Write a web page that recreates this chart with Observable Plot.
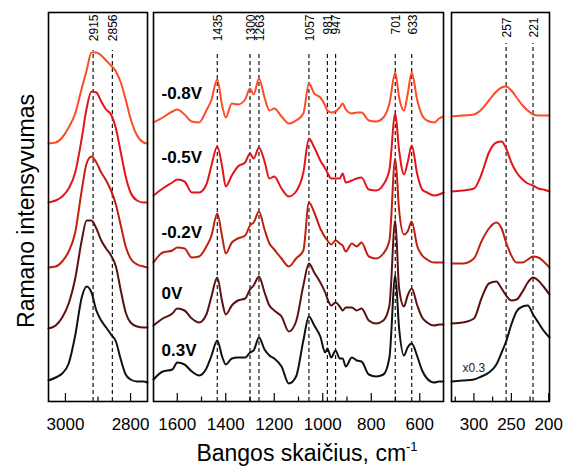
<!DOCTYPE html>
<html><head><meta charset="utf-8">
<script src="https://cdn.jsdelivr.net/npm/d3@7"></script>
<script src="https://cdn.jsdelivr.net/npm/@observablehq/plot@0.6"></script>
<style>
html,body{margin:0;padding:0;background:#fff;}
#wrap{position:relative;width:571px;height:466px;font-family:"Liberation Sans",Arial,sans-serif;color:#000;}
.panel{position:absolute;top:0;}
#ytitle{position:absolute;left:25.5px;top:211px;transform:translate(-50%,-50%) rotate(-90deg);font-size:23px;line-height:23px;white-space:nowrap;}
#xtitle{position:absolute;left:307px;top:442px;transform:translateX(-50%);font-size:23px;line-height:23px;white-space:nowrap;}
#xtitle sup{font-size:13px;vertical-align:0;position:relative;top:-10px;}
</style>
</head><body>
<div id="wrap">
  <div id="ytitle">Ramano intensyvumas</div>
  <div id="xtitle">Bangos skaičius, cm<sup>-1</sup></div>
</div>
<script>
// ---- data ----
const voltages = ["-0.8V", "-0.5V", "-0.2V", "0V", "0.3V"];
const colors = ["#ff4a26", "#e3151b", "#c2200f", "#5b1111", "#111111"];

// panel 1 (C-H region)
const wn1 = [3052,3030,3010,2990,2970,2950,2935,2920,2905,2890,2875,2860,2845,2830,2815,2800,2780,2760,2748];
const p1_m08 = [257,258,263,273,287,312,330,348,348,345,340,335,329,318,301,282,265,258,257];
const p1_m05 = [198,200,204,212,228,262,292,309,308,299,291,286,272,248,224,208,200,198,198];
const p1_m02 = [133,134,139,149,168,210,237,244,238,228,220,210,196,175,154,142,136,134,133];
const p1_0   = [72,75,83,97,122,160,180,180,172,160,152,145,134,110,88,78,74,73,73];
const p1_03  = [20,23,27,37,65,103,114,108,90,80,73,66,59,41,26,21,19,19,18];
const peaks1 = [2915, 2856];
const ticks1 = [3000, 2900, 2800];
const tickLabels1 = [3000, 2800];

// panel 2 (fingerprint region)
const wn2 = [1698,1660,1620,1600,1570,1540,1510,1480,1460,1435,1415,1400,1375,1350,1320,1300,1285,1263,1240,1220,1200,1170,1140,1110,1080,1057,1035,1010,990,981,965,947,930,918,905,880,860,840,810,780,750,725,701,685,665,650,633,610,590,570,540,520,502];
const p2_m08 = [278,283,289,291,286,279,278,290,300,321,295,283,297,296,301,312,306,322,303,290,292,284,277,280,287,317,307,303,295,290,288,289,293,297,291,287,288,288,280,279,283,297,328,303,290,306,328,300,285,280,278,282,284];
const p2_m05 = [205,212,218,221,219,208,208,216,234,254,234,214,225,234,238,247,242,253,239,222,224,212,204,209,228,262,253,240,232,228,222,222,222,227,218,220,222,223,211,210,216,231,287,250,226,238,255,226,211,208,205,206,208];
const p2_m02 = [138,148,150,153,152,143,144,154,164,187,164,147,158,162,165,175,178,189,171,157,151,142,134,142,150,198,188,172,163,160,156,160,157,155,149,157,154,158,144,142,147,160,242,190,166,169,179,154,145,141,138,138,138];
const p2_0   = [75,82,87,92,90,82,78,86,103,123,99,86,95,100,102,111,115,124,108,95,90,84,69,79,115,137,128,118,108,102,95,98,94,90,93,93,90,92,80,77,80,95,180,112,94,105,112,95,83,78,75,76,76];
const p2_03  = [21,29,31,38,36,29,25,32,44,60,44,36,42,43,43,48,50,63,51,45,42,34,17,24,60,84,75,64,48,52,43,50,42,42,34,43,40,39,26,24,26,43,125,72,45,53,57,44,30,22,18,19,19];
const peaks2 = [1435, 1300, 1263, 1057, 981, 947, 701, 633];
const ticks2 = [1600,1500,1400,1300,1200,1100,1000,900,800,700,600];
const tickLabels2 = [1600,1400,1200,1000,800,600];

// panel 3 (low wavenumber region)
const wn3 = [330,315,300,290,280,270,263,257,250,243,235,228,221,214,207,199];
const p3_m08 = [284,285,286,291,300,309,313,314,310,303,295,290,286,285,285,285];
const p3_m05 = [209,210,212,226,248,258,259,252,238,228,221,217,215,212,211,209];
const p3_m02 = [137,137,142,159,172,178,172,158,145,138,138,141,144,143,139,133];
const p3_0   = [77,78,82,102,117,119,112,105,100,101,109,118,123,120,114,106];
const p3_03  = [19,20,21,24,28,36,48,59,76,89,94,95,86,78,70,63];
const peaks3 = [257, 221];
const ticks3 = [325, 300, 275, 250, 225, 200];
const tickLabels3 = [300, 250, 200];

// ---- drawing ----
const FONT = "Liberation Sans, Arial, sans-serif";
const Y_DOMAIN = [-1, 388];

function panel({left, frameWidth, domain, wns, series, peaks, peakTop, peakLabelY, ticks, tickLabels, extra = []}) {
  const svg = Plot.plot({
    width: frameWidth + 4,
    height: 440,
    marginLeft: 2, marginRight: 2, marginTop: 12, marginBottom: 39,
    x: {domain},
    y: {domain: Y_DOMAIN, axis: null},
    style: {overflow: "visible", background: "transparent", fontFamily: FONT, color: "#000"},
    marks: [
      Plot.ruleX(peaks, {x: d => d, y1: Y_DOMAIN[0], y2: peakTop, stroke: "#000", strokeWidth: 1.1, strokeDasharray: "4,3"}),
      ...series.map((s, i) => Plot.line(wns, {x: d => d, y: (d, j) => s[j], stroke: colors[i], strokeWidth: 2, curve: "monotone-x", strokeLinejoin: "round"})),
      Plot.text(peaks, {x: d => d, y: peakLabelY, text: d => String(d), rotate: -90, textAnchor: "end", fontSize: 12, dx: 1, fill: "#000"}),
      Plot.ruleX(ticks, {x: d => d, y1: Y_DOMAIN[0], y2: d => tickLabels.includes(d) ? 7 : 3.5, stroke: "#000", strokeWidth: 1.2}),
      Plot.axisX({ticks: tickLabels, tickSize: 0, tickPadding: 16, tickFormat: d => String(d), fontSize: 17, label: null, fill: "#000"}),
      ...extra,
      Plot.frame({stroke: "#000", strokeWidth: 1.6})
    ]
  });
  svg.classList.add("panel");
  svg.style.left = left + "px";
  svg.style.top = "0px";
  svg.style.position = "absolute";
  document.getElementById("wrap").appendChild(svg);
}

panel({left: 46, frameWidth: 99, domain: [3052, 2748], wns: wn1,
  series: [p1_m08, p1_m05, p1_m02, p1_0, p1_03],
  peaks: peaks1, peakTop: 350, peakLabelY: 386, ticks: ticks1, tickLabels: tickLabels1});

const lift = [29, 38, 30, 32, 29];
const s2 = [p2_m08, p2_m05, p2_m02, p2_0, p2_03];
panel({left: 151, frameWidth: 290, domain: [1698, 502], wns: wn2,
  series: s2,
  peaks: peaks2, peakTop: 348, peakLabelY: 386, ticks: ticks2, tickLabels: tickLabels2,
  extra: [Plot.text(voltages, {frameAnchor: "left", dx: 8, y: (d, i) => s2[i][0] + lift[i], text: d => d, textAnchor: "start", fontSize: 17, fontWeight: "bold", fill: "#000"})]});

panel({left: 449, frameWidth: 98, domain: [330, 199], wns: wn3,
  series: [p3_m08, p3_m05, p3_m02, p3_0, p3_03],
  peaks: peaks3, peakTop: 357, peakLabelY: 383, ticks: ticks3, tickLabels: tickLabels3,
  extra: [Plot.text(["x0.3"], {frameAnchor: "left", dx: 11, y: 32, text: d => d, textAnchor: "start", fontSize: 12, fill: "#222"})]});
</script>
</body></html>
